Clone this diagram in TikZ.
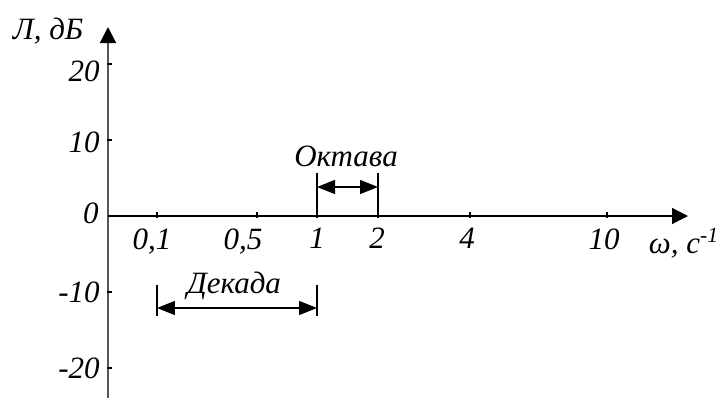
\documentclass[tikz,border=0pt]{standalone}
\usepackage{fontspec}
\setmainfont{Liberation Serif}
\usetikzlibrary{arrows.meta}
\definecolor{axGray}{HTML}{555555}

\begin{document}
\begin{tikzpicture}[
  x=0.5pt, y=0.5pt, font=\fontsize{15.5}{18}\selectfont\itshape,
  axis/.style={-{Triangle[length=8pt, width=8pt, color=black]}, line width=0.7pt},
  yaxis/.style={axis, draw=axGray, line width=1pt},
  tck/.style={line width=0.6pt},
  dimbar/.style={line width=0.6pt},
  dim/.style={{Triangle[length=9pt, width=7pt]}-{Triangle[length=9pt, width=7pt]}, line width=0.6pt},
  lbl/.style={inner sep=0pt},
]
\useasboundingbox (-108,-182) rectangle (610,216);

% ---- axes
\coordinate (O)    at (0,0);
\coordinate (xend) at (580,0);
\coordinate (ybot) at (0,-182);
\coordinate (ytop) at (0,189);
\draw[yaxis] (ybot) -- (ytop);
\draw[axis]  (O) -- (xend);

\node[lbl] at (-60,185) (ylab) {Л, дБ};
\node[lbl] at (576,-27) (xlab) {ω, с\textsuperscript{-1}};

% ---- ticks on the level axis
\foreach \y/\t/\dy in {152/20/-7, 76/10/-2, -76/-10/0, -152/-20/0} {
  \draw[tck] (-1,\y) -- (4,\y);
  \node[lbl, anchor=east] at (-8,\y+\dy) {\t};
}
\node[lbl, anchor=east] at (-9,3) (zero) {0};

% ---- ticks on the frequency axis
\foreach \x/\t/\dx in {49/{0,1}/-5, 149/{0,5}/-14, 209/1/0, 270/2/-1, 362/4/-3, 499/10/-3} {
  \draw[tck] (\x,-2) -- (\x,4);
  \node[lbl, anchor=north] at (\x+\dx,-12) {\t};
}

% ---- octave
\coordinate (oa) at (209,0);
\coordinate (ob) at (270,0);
\coordinate (oa2) at (209,43);
\coordinate (ob2) at (270,43);
\coordinate (oc) at (209,29);
\coordinate (od) at (270,29);
\draw[dimbar] (oa) -- (oa2);
\draw[dimbar] (ob) -- (ob2);
\draw[dim] (oc) -- (od);
\node[lbl] at (238,60) (oct) {Октава};

% ---- decade
\coordinate (da) at (49,-69);
\coordinate (db) at (209,-69);
\coordinate (da2) at (49,-100);
\coordinate (db2) at (209,-100);
\coordinate (dc) at (49,-92);
\coordinate (dd) at (209,-92);
\draw[dimbar] (da) -- (da2);
\draw[dimbar] (db) -- (db2);
\draw[dim] (dc) -- (dd);
\node[lbl] at (126,-70) (dec) {Декада};

\end{tikzpicture}
\end{document}
